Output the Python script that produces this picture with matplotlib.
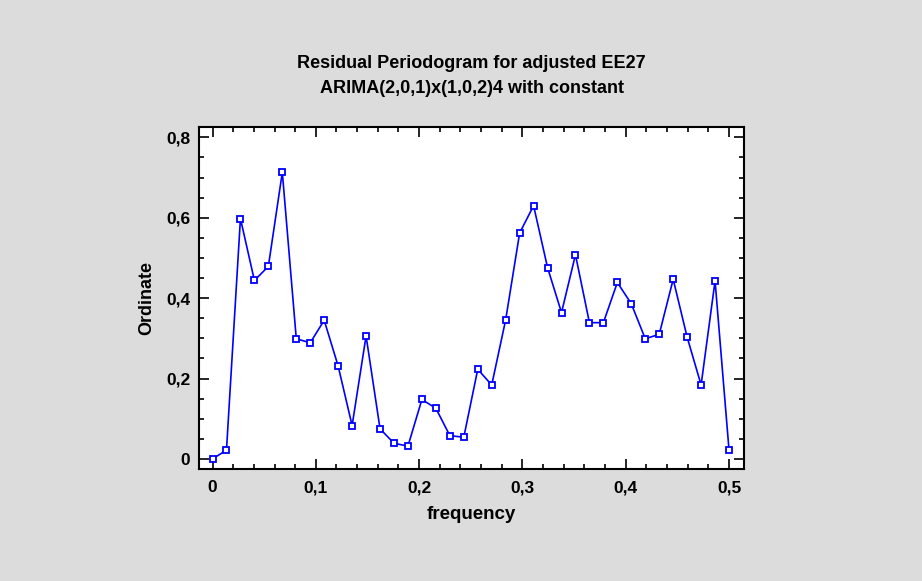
import numpy as np
import matplotlib
matplotlib.use("Agg")
import matplotlib.pyplot as plt
from matplotlib.ticker import MultipleLocator, FuncFormatter

n_points = 38
frequency = [k / 74 for k in range(n_points)]
ordinate = [0.000, 0.022, 0.598, 0.444, 0.479, 0.713, 0.299, 0.289, 0.345, 0.231,
            0.083, 0.306, 0.075, 0.039, 0.032, 0.148, 0.126, 0.058, 0.054, 0.223,
            0.184, 0.346, 0.562, 0.630, 0.476, 0.364, 0.508, 0.339, 0.339, 0.439,
            0.386, 0.299, 0.310, 0.447, 0.303, 0.184, 0.443, 0.022]

title = "Residual Periodogram for adjusted EE27\nARIMA(2,0,1)x(1,0,2)4 with constant"
xlabel = "frequency"
ylabel = "Ordinate"

plt.rcParams['font.family'] = ['Liberation Sans', 'DejaVu Sans']
plt.rcParams['font.weight'] = 'bold'

bg = '#DCDCDC'
fig = plt.figure(figsize=(9.22, 5.81), dpi=100, facecolor=bg)
ax = fig.add_axes([199.3 / 922, 1 - 469 / 581, (744 - 199.3) / 922, (469 - 127.3) / 581])
ax.set_facecolor('white')

ax.plot(frequency, ordinate, color='#0000FF', lw=1.2, marker='s', ms=5.0,
        mfc='white', mec='#0000FF', mew=1.3)

ax.set_xlim(-0.0128, 0.5145)
ax.set_ylim(-0.025, 0.825)

ax.xaxis.set_major_locator(MultipleLocator(0.1))
ax.xaxis.set_minor_locator(MultipleLocator(0.02))
ax.yaxis.set_major_locator(MultipleLocator(0.2))
ax.yaxis.set_minor_locator(MultipleLocator(0.05))

def comma_fmt(v, pos):
    if abs(v) < 1e-9:
        return "0"
    return ("%g" % round(v, 3)).replace('.', ',')

ax.xaxis.set_major_formatter(FuncFormatter(comma_fmt))
ax.yaxis.set_major_formatter(FuncFormatter(comma_fmt))

ax.tick_params(which='both', direction='in', top=True, right=True, width=1.2, colors='black')
ax.tick_params(which='major', length=7, labelsize=12.5, pad=8)
ax.tick_params(axis='y', which='major', pad=6.5)
ax.tick_params(which='minor', length=3.5)
for lab in ax.get_xticklabels() + ax.get_yticklabels():
    lab.set_fontweight('bold')

for s in ax.spines.values():
    s.set_linewidth(1.5)
    s.set_color('black')

ax.set_xlabel(xlabel, fontsize=13.5, fontweight='bold', labelpad=8)
ax.set_ylabel(ylabel, fontsize=13, fontweight='bold', labelpad=8)
ax.set_title(title, fontsize=13, fontweight='bold', pad=25, linespacing=1.55)

fig.savefig('out.png', dpi=100, facecolor=bg)
